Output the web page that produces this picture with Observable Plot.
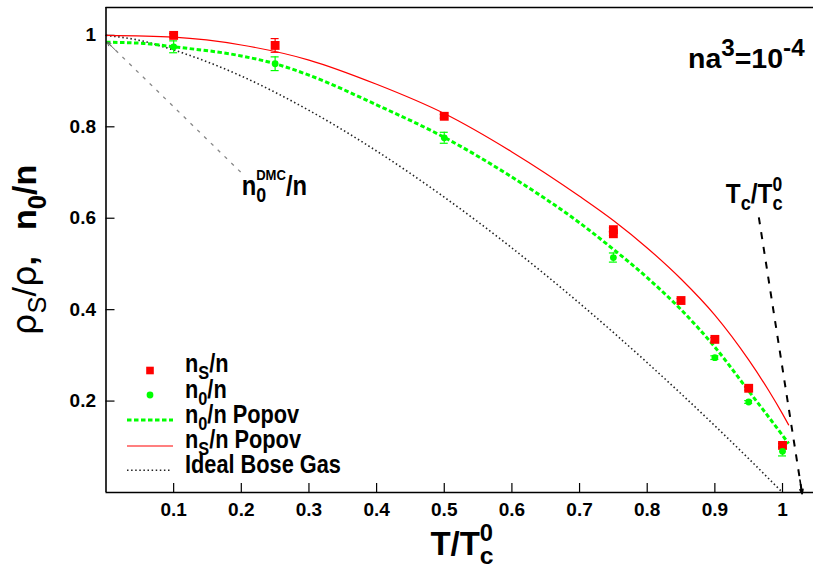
<!DOCTYPE html>
<html><head><meta charset="utf-8">
<script src="https://cdn.jsdelivr.net/npm/d3@7"></script>
<script src="https://cdn.jsdelivr.net/npm/@observablehq/plot@0.6"></script>
<style>
body{margin:0;background:#fff}
#chart{position:relative;width:813px;height:578px;overflow:hidden}
</style></head><body><div id="chart"></div>
<script>
// ---- data ----
const xTicks = [0.1,0.2,0.3,0.4,0.5,0.6,0.7,0.8,0.9,1];
const yTicks = [0.2,0.4,0.6,0.8,1];

// DMC superfluid fraction n_S/n
const nsT   = [0.1, 0.25, 0.5, 0.75, 0.75, 0.85, 0.9, 0.95, 1.0];
const nsV   = [1.0, 0.978, 0.823, 0.575, 0.566, 0.42, 0.335, 0.228, 0.103];
const nsErr = [0.004, 0.015, 0.004, 0.004, 0.004, 0.004, 0.004, 0.004, 0.004];

// DMC condensate fraction n_0/n
const n0T   = [0.1, 0.25, 0.5, 0.75, 0.9, 0.95, 1.0];
const n0V   = [0.975, 0.938, 0.776, 0.514, 0.295, 0.198, 0.090];
const n0Err = [0.013, 0.015, 0.012, 0.010, 0.004, 0.003, 0.010];

// Popov curves
const n0PopT = [0, 0.05, 0.1, 0.2, 0.25, 0.3, 0.4, 0.5, 0.6, 0.7, 0.75, 0.8, 0.85, 0.9, 0.95, 1.0, 1.009];
const n0PopV = [0.985, 0.983, 0.975, 0.955, 0.938, 0.913, 0.848, 0.777, 0.690, 0.590, 0.532, 0.470, 0.400, 0.318, 0.222, 0.125, 0.107];
const nsPopT = [0, 0.1, 0.2, 0.3, 0.4, 0.5, 0.6, 0.7, 0.75, 0.8, 0.85, 0.9, 0.95, 0.98, 1.0, 1.009];
const nsPopV = [1.0, 0.996, 0.979, 0.946, 0.893, 0.829, 0.745, 0.648, 0.595, 0.535, 0.467, 0.388, 0.290, 0.222, 0.172, 0.148];

// Ideal Bose gas
const idealT = [0, 0.05, 0.1, 0.15, 0.2, 0.3, 0.4, 0.5, 0.6, 0.7, 0.8, 0.9, 0.95, 1.0];
const idealV = [1.0, 0.989, 0.968, 0.942, 0.911, 0.836, 0.747, 0.646, 0.535, 0.414, 0.284, 0.146, 0.074, 0.0];

// annotation arrows [x1,y1,x2,y2] in data units
const dmcArrow = [0.199, 0.701, 0.002, 0.985];
const tcArrow  = [0.965, 0.602, 1.029, -0.003];

// ---- layout ----
const W = 813, H = 578, mL = 105.5, mT = 7, mB = 86, mR = 0;
const xMax = 1.0458, yMax = 1.061;
const pxX = (W - mL - mR) / xMax, pxY = (H - mT - mB) / yMax;
const tickLx = 9 / pxX, tickLy = 9 / pxY, cap = 4 / pxX;
const fmt = d3.format("~g");
const REG = "'Liberation Sans', Arial, Helvetica, sans-serif";
const NARROW = 0.87;

const ns = nsT.map((t,i)=>({t, v:nsV[i], e:nsErr[i]}));
const n0 = n0T.map((t,i)=>({t, v:n0V[i], e:n0Err[i]}));
const n0Pop = n0PopT.map((t,i)=>({t, v:n0PopV[i]}));
const nsPop = nsPopT.map((t,i)=>({t, v:nsPopV[i]}));
const ideal = idealT.map((t,i)=>({t, v:idealV[i]}));
const lerp = (a,f)=>[a[2]+(a[0]-a[2])*f, a[3]+(a[1]-a[3])*f, a[2], a[3]];
const dmcHead = lerp(dmcArrow, 0.06), tcHead = lerp(tcArrow, 0.05);

const plot = Plot.plot({
  width: W, height: H, marginLeft: mL, marginTop: mT, marginBottom: mB, marginRight: mR,
  x: {domain: [0, xMax]}, y: {domain: [0, yMax]},
  style: {background: "white", fontFamily: REG, fontSize: "19px", fontWeight: "bold", color: "#000"},
  marks: [
    Plot.axisX({ticks: xTicks, tickFormat: fmt, tickSize: 0, tickPadding: 10, label: null, fontWeight: "bold"}),
    Plot.axisY({ticks: yTicks, tickFormat: fmt, tickSize: 0, tickPadding: 10, label: null, fontWeight: "bold"}),
    Plot.ruleX(xTicks, {y1: 0, y2: tickLy, stroke: "#000", strokeWidth: 1.2}),
    Plot.ruleY(yTicks, {x1: 0, x2: tickLx, stroke: "#000", strokeWidth: 1.2}),
    Plot.line(ideal, {x: "t", y: "v", stroke: "#222", strokeWidth: 1.6, strokeDasharray: "1.5,2.6", strokeLinecap: "butt", curve: "monotone-x"}),
    Plot.line(nsPop, {x: "t", y: "v", stroke: "#ff0000", strokeWidth: 1.2, curve: "monotone-x"}),
    Plot.line(n0Pop, {x: "t", y: "v", stroke: "#00ff00", strokeWidth: 3, strokeDasharray: "4.5,2.5", strokeLinecap: "butt", curve: "monotone-x"}),
    // error bars
    Plot.ruleX(ns, {x: "t", y1: d=>d.v-d.e, y2: d=>d.v+d.e, stroke: "#ff0000", strokeWidth: 1.2}),
    Plot.ruleY(ns, {y: d=>d.v+d.e, x1: d=>d.t-cap, x2: d=>d.t+cap, stroke: "#ff0000", strokeWidth: 1.2}),
    Plot.ruleY(ns, {y: d=>d.v-d.e, x1: d=>d.t-cap, x2: d=>d.t+cap, stroke: "#ff0000", strokeWidth: 1.2}),
    Plot.ruleX(n0, {x: "t", y1: d=>d.v-d.e, y2: d=>d.v+d.e, stroke: "#00ff00", strokeWidth: 1.2}),
    Plot.ruleY(n0, {y: d=>d.v+d.e, x1: d=>d.t-cap, x2: d=>d.t+cap, stroke: "#00ff00", strokeWidth: 1.2}),
    Plot.ruleY(n0, {y: d=>d.v-d.e, x1: d=>d.t-cap, x2: d=>d.t+cap, stroke: "#00ff00", strokeWidth: 1.2}),
    Plot.dot(ns, {x: "t", y: "v", symbol: "square", r: 5, fill: "#ff0000", stroke: null}),
    Plot.dot(n0, {x: "t", y: "v", symbol: "circle", r: 3.4, fill: "#00ff00", stroke: null}),
    // annotation arrows
    Plot.link([dmcArrow], {x1: d=>d[0], y1: d=>d[1], x2: d=>d[2], y2: d=>d[3], stroke: "#888", strokeWidth: 1.3, strokeDasharray: "3.5,6", strokeLinecap: "butt"}),
    Plot.arrow([dmcHead], {x1: d=>d[0], y1: d=>d[1], x2: d=>d[2], y2: d=>d[3], stroke: "#666", strokeWidth: 1, headLength: 13, headAngle: 55}),
    Plot.link([tcArrow], {x1: d=>d[0], y1: d=>d[1], x2: d=>d[2], y2: d=>d[3], stroke: "#000", strokeWidth: 2, strokeDasharray: "7,8", strokeLinecap: "butt"}),
    Plot.arrow([tcHead], {x1: d=>d[0], y1: d=>d[1], x2: d=>d[2], y2: d=>d[3], stroke: "#000", strokeWidth: 1.6, headLength: 14, headAngle: 38}),
    // frame (left, bottom, top)
    Plot.ruleX([0], {stroke: "#000", strokeWidth: 1.6}),
    Plot.ruleY([0, yMax], {stroke: "#000", strokeWidth: 1.6})
  ]
});
document.getElementById("chart").appendChild(plot);

// ---- rich text helper ----
const svg = d3.select(plot);
const sx = plot.scale("x"), sy = plot.scale("y");
function rich(x, y, parts, base) {
  const outer = svg.append("g").attr("text-anchor", "start");
  const g = outer.append("g");
  let cx = 0, stackX = 0, stackW = 0;
  for (const p of parts) {
    const size = (p.s || 1) * base.size;
    const t = g.append("text")
      .attr("text-anchor", "start")
      .attr("x", cx).attr("y", (p.dy || 0) * base.size)
      .attr("font-size", size)
      .attr("font-family", p.family || base.family || REG)
      .attr("font-weight", p.weight || base.weight || "bold")
      .attr("fill", "#000")
      .text(p.t);
    const w = t.node().getComputedTextLength() + (p.gap || 0);
    if (p.stack === "start") { stackX = cx; stackW = w; }
    else if (p.stack === "end") { t.attr("x", stackX); cx = stackX + Math.max(stackW, w); }
    else cx += w;
  }
  const k = base.scale || 1;
  const shift = base.anchor === "middle" ? -cx/2 : base.anchor === "end" ? -cx : 0;
  outer.attr("transform", `translate(${x},${y})` + (base.rotate ? ` rotate(${base.rotate})` : "") + ` scale(${k},1) translate(${shift},0)`);
  return outer;
}
const SUB = {s: 0.75, dy: 0.28}, SUP = {s: 0.72, dy: -0.42};
const SUPB = {s: 0.85, dy: -0.42};

// na^3 = 10^-4
rich(sx.apply(0.861), sy.apply(0.9285), [
  {t: "na"}, {t: "3", ...SUPB}, {t: "=10"}, {t: "-4", ...SUPB}
], {size: 28.5});

// T_c / T_c^0 label
rich(sx.apply(0.917), sy.apply(0.633), [
  {t: "T"}, {t: "c", ...SUB}, {t: "/T"}, {t: "0", ...SUP, stack: "start"}, {t: "c", ...SUB, stack: "end"}
], {size: 27, scale: 0.9});

// n_0^DMC / n label
rich(sx.apply(0.2013), sy.apply(0.650), [
  {t: "n"}, {t: "DMC", s: 0.55, dy: -0.55, stack: "start"}, {t: "0", ...SUB, stack: "end"}, {t: "/n"}
], {size: 27, scale: 0.88});

// axis titles
rich(462, 555, [
  {t: "T/T"}, {t: "0", ...SUP, stack: "start"}, {t: "c", ...SUB, stack: "end"}
], {size: 33, anchor: "middle"});

rich(36, 250, [
  {t: "ρ", weight: "normal", family: "'DejaVu Sans', sans-serif"},
  {t: "S", ...SUB, weight: "normal"},
  {t: "/", weight: "normal"},
  {t: "ρ", weight: "normal", family: "'DejaVu Sans', sans-serif"},
  {t: ",", weight: "bold", gap: 26},
  {t: "n"}, {t: "0", ...SUB}, {t: "/n"}
], {size: 34, anchor: "middle", rotate: -90});

// ---- legend ----
const lg = svg.append("g");
const rowsY = [372, 397.5, 423, 448, 473.3];
const LS = 25;
lg.append("rect").attr("x", 150-3.8).attr("y", rowsY[0]-1.5-3.8).attr("width", 7.6).attr("height", 7.6).attr("fill", "#ff0000");
rich(185, rowsY[0], [{t: "n"}, {t: "S", ...SUB}, {t: "/n"}], {size: LS, scale: NARROW});
lg.append("circle").attr("cx", 150).attr("cy", rowsY[1]-2.5).attr("r", 3.4).attr("fill", "#00ff00");
rich(185, rowsY[1], [{t: "n"}, {t: "0", ...SUB}, {t: "/n"}], {size: LS, scale: NARROW});
lg.append("line").attr("x1", 127).attr("x2", 173).attr("y1", rowsY[2]-3).attr("y2", rowsY[2]-3)
  .attr("stroke", "#00ff00").attr("stroke-width", 3).attr("stroke-dasharray", "4.5,2.5");
rich(185, rowsY[2], [{t: "n"}, {t: "0", ...SUB}, {t: "/n Popov"}], {size: LS, scale: NARROW});
lg.append("line").attr("x1", 127).attr("x2", 173).attr("y1", rowsY[3]-2).attr("y2", rowsY[3]-2)
  .attr("stroke", "#ff0000").attr("stroke-width", 1.2);
rich(185, rowsY[3], [{t: "n"}, {t: "S", ...SUB}, {t: "/n Popov"}], {size: LS, scale: NARROW});
lg.append("line").attr("x1", 127).attr("x2", 171).attr("y1", rowsY[4]-3).attr("y2", rowsY[4]-3)
  .attr("stroke", "#222").attr("stroke-width", 1.6).attr("stroke-dasharray", "1.5,2.6");
rich(185, rowsY[4], [{t: "Ideal Bose Gas"}], {size: LS, scale: NARROW});
</script></body></html>
